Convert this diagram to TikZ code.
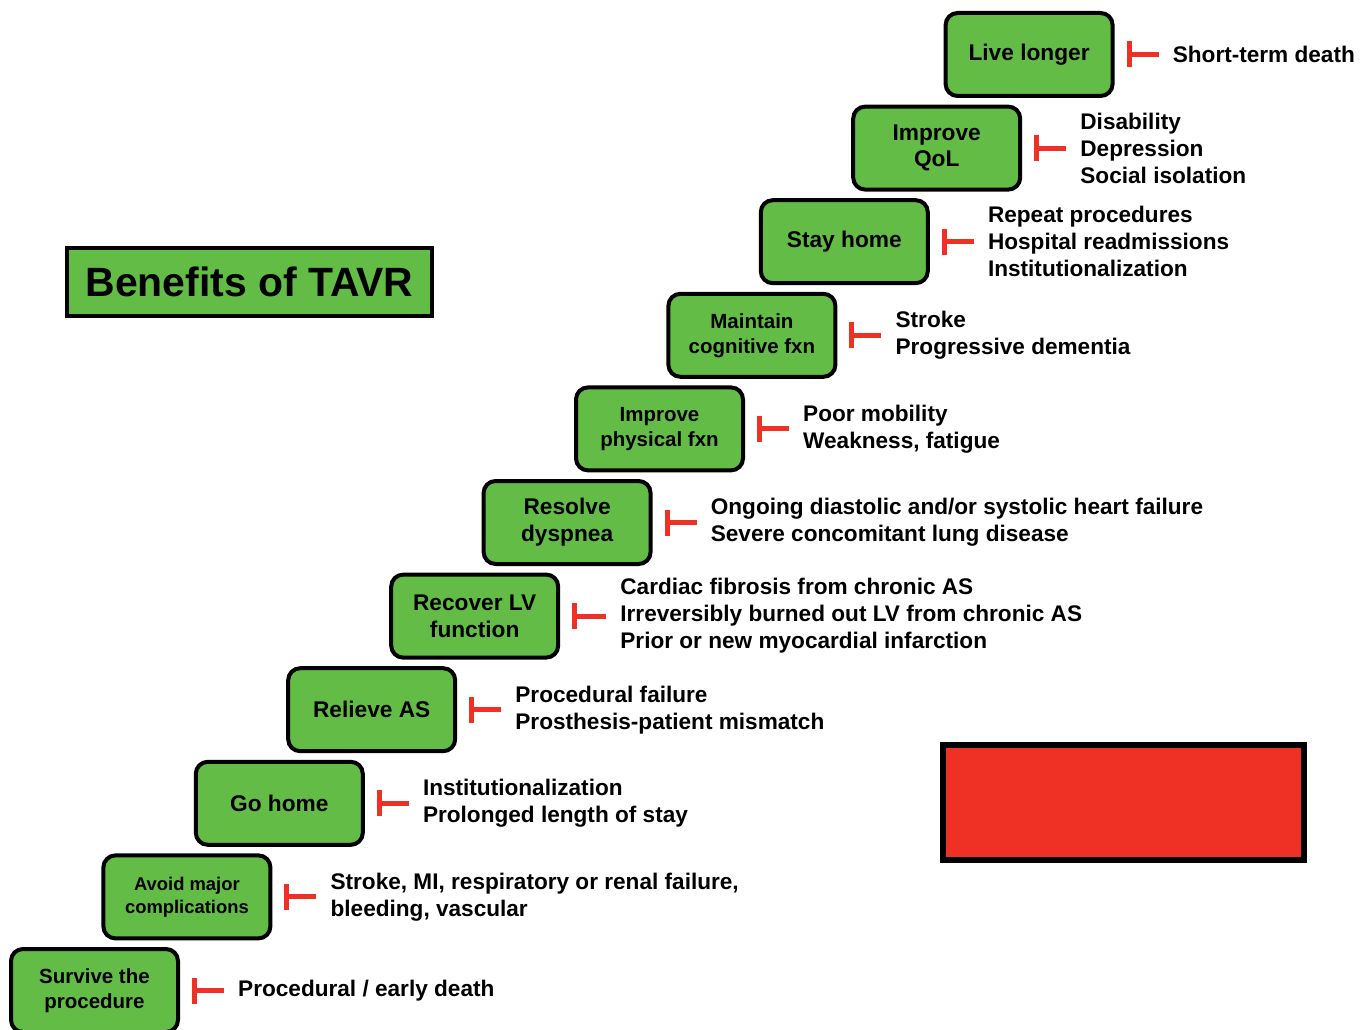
\documentclass[tikz,border=0pt]{standalone}
\usepackage{fontspec}
\setmainfont{Liberation Sans}
\usetikzlibrary{positioning,arrows.meta}
\definecolor{stepgreen}{RGB}{99,188,70}
\definecolor{barred}{RGB}{238,49,36}

\begin{document}
\begin{tikzpicture}[x=1pt,y=-1pt,node distance=93.6pt and 92.4pt,on grid,
                main node/.style={draw, line width=4pt, rounded corners=12pt, fill=stepgreen,
                  minimum width=167pt, minimum height=83pt, inner sep=0pt, align=center,
                  font=\bfseries\fontsize{22.7}{27}\selectfont},
                small text/.style={font=\bfseries\fontsize{20.5}{25}\selectfont},
                loss/.style={anchor=west, inner sep=0pt, align=left,
                  font=\bfseries\fontsize{22.6}{27}\selectfont},
                block/.style={barred, line width=5pt, {Bar[width=26pt,line width=5pt]}-,
                  shorten <=12pt, shorten >=14pt}]

  \useasboundingbox (0,0) rectangle (1371,1030);

  % the steps
  \node[main node, small text] (0) at (94.5,990.5) {Survive the\\procedure};
  \node[main node, font=\bfseries\fontsize{18.4}{23}\selectfont] (1) [above right=of 0] {Avoid major\\complications};
  \node[main node] (2) [above right=of 1] {Go home};
  \node[main node] (3) [above right=of 2] {Relieve AS};
  \node[main node] (4) [above right=93.6pt and 103pt of 3] {Recover LV\\function};
  \node[main node] (5) [above right=of 4] {Resolve\\dyspnea};
  \node[main node, small text] (6) [above right=of 5] {Improve\\physical fxn};
  \node[main node, small text] (7) [above right=of 6] {Maintain\\cognitive fxn};
  \node[main node] (8) [above right=of 7] {Stay home};
  \node[main node, font=\bfseries\fontsize{22.7}{26}\selectfont] (9) [above right=of 8] {Improve\\QoL};
  \node[main node] (10) [above right=of 9] {Live longer};

  % what stands in the way
  \node[loss] (t0) at ([xshift=58pt]0.east) {Procedural / early death};
  \node[loss] (t1) at ([xshift=58pt]1.east) {Stroke, MI, respiratory or renal failure,\\bleeding, vascular};
  \node[loss] (t2) at ([xshift=58pt]2.east) {Institutionalization\\Prolonged length of stay};
  \node[loss] (t3) at ([xshift=58pt]3.east) {Procedural failure\\Prosthesis-patient mismatch};
  \node[loss] (t4) at ([xshift=60pt]4.east) {Cardiac fibrosis from chronic AS\\Irreversibly burned out LV from chronic AS\\Prior or new myocardial infarction};
  \node[loss] (t5) at ([xshift=58pt]5.east) {Ongoing diastolic and/or systolic heart failure\\Severe concomitant lung disease};
  \node[loss] (t6) at ([xshift=58pt]6.east) {Poor mobility\\Weakness, fatigue};
  \node[loss] (t7) at ([xshift=58pt]7.east) {Stroke\\Progressive dementia};
  \node[loss] (t8) at ([xshift=58pt]8.east) {Repeat procedures\\Hospital readmissions\\Institutionalization};
  \node[loss] (t9) at ([xshift=58pt]9.east) {Disability\\Depression\\Social isolation};
  \node[loss] (t10) at ([xshift=58pt]10.east) {Short-term death};

  \foreach \i in {0,...,10}
    \draw[block] (\i.east) -- (t\i.west);

  % title and red key
  \node[draw, line width=4.5pt, fill=stepgreen, minimum width=365pt, minimum height=68pt,
        font=\bfseries\fontsize{40.9}{48}\selectfont] (title) at (249.5,282) {Benefits of TAVR};
  \node[draw, line width=6pt, fill=barred, minimum width=361pt, minimum height=115pt] (key) at (1123,802) {};
\end{tikzpicture}
\end{document}
